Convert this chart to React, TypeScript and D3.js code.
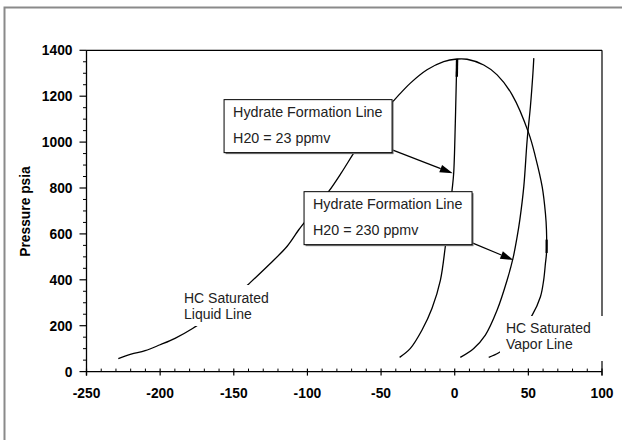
import React from 'react';
import * as d3 from 'd3';

// ---- data (temperature °F, pressure psia) ----
const xTickValues = [-250, -200, -150, -100, -50, 0, 50, 100];
const yTickValues = [0, 200, 400, 600, 800, 1000, 1200, 1400];

// phase envelope: saturated liquid line -> cricondenbar -> saturated vapor line
const envelope: [number, number][] = [
  [-228.4, 57], [-219.7, 76], [-210.2, 91], [-200, 117], [-189.9, 145], [-178, 188],
  [-165, 245], [-152, 310], [-140, 381], [-127.5, 457], [-113.9, 545], [-106, 617],
  [-101.5, 655], [-95, 712], [-85.7, 784], [-77, 866], [-68.7, 951], [-56, 1075],
  [-41.5, 1180], [-35.8, 1220], [-30.1, 1257], [-18.8, 1315], [-7.5, 1351], [1.6, 1362],
  [8.4, 1361], [19.7, 1336], [28.8, 1293], [39, 1206], [50.3, 1038], [54.8, 936],
  [59.4, 805], [61.6, 689], [62.3, 617], [62.3, 515], [61.6, 472], [60.4, 399],
  [58.2, 326], [52.6, 246], [44, 170], [36, 115], [29.9, 82], [23.1, 62],
];

// hydrate formation line, 23 ppmv water
const hydrate23: [number, number][] = [
  [-37.4, 62], [-30.1, 101], [-22.2, 181], [-15.4, 276], [-9.7, 399], [-6.4, 544],
  [-4, 670], [-1.8, 791], [-0.7, 864], [0.4, 1082], [1.1, 1271], [1.6, 1362],
];
const hydrate23Top: [number, number][] = [[1.6, 1362], [1.4, 1285]];

// hydrate formation line, 230 ppmv water
const hydrate230: [number, number][] = [
  [3.8, 62], [12.9, 101], [20.8, 159], [28.8, 268], [35.6, 399], [39.6, 494],
  [42.4, 588], [44.2, 661], [46.9, 806], [49.2, 1010], [51.4, 1155], [53.1, 1300], [53.7, 1366],
];
const vaporThick: [number, number][] = [[62.4, 575], [62.4, 517]];

// annotation boxes: [left T, top P], arrow from / to
const boxLabels = ['Hydrate Formation Line', 'Hydrate Formation Line'];
const boxSubLabels = ['H20 = 23 ppmv', 'H20 = 230 ppmv'];
const boxAnchors: [number, number][] = [[-156.6, 1185], [-102.3, 784]];
const arrowFrom: [number, number][] = [[-42.4, 966], [12.3, 560]];
const arrowTo: [number, number][] = [[-1.3, 864], [39.8, 486]];

const liquidLabel = ['HC Saturated', 'Liquid Line'];
const vaporLabel = ['HC Saturated', 'Vapor Line'];

const FONT = 'Liberation Sans, Arial, Helvetica, sans-serif';

export default function App() {
  const W = 622, H = 440;
  const L = 86.5, R = 602, T = 50.3, B = 371.6;
  const x = d3.scaleLinear().domain([-250, 100]).range([L, R]);
  const y = d3.scaleLinear().domain([0, 1400]).range([B, T]);
  const line = d3.line<[number, number]>().x(d => x(d[0])).y(d => y(d[1])).curve(d3.curveCatmullRom.alpha(0.5));
  const straight = d3.line<[number, number]>().x(d => x(d[0])).y(d => y(d[1]));

  const xMinor = d3.range(-250, 100.1, 10).filter(v => !xTickValues.includes(v));
  const yMinor = d3.range(0, 1400.1, 50).filter(v => !yTickValues.includes(v));

  const arrows = arrowFrom.map((f, i) => {
    const x1 = x(f[0]), y1 = y(f[1]);
    const x2 = x(arrowTo[i][0]), y2 = y(arrowTo[i][1]);
    const a = Math.atan2(y2 - y1, x2 - x1);
    const len = 13, hw = 4;
    const bx = x2 - len * Math.cos(a), by = y2 - len * Math.sin(a);
    const p1 = [bx + hw * Math.sin(a), by - hw * Math.cos(a)];
    const p2 = [bx - hw * Math.sin(a), by + hw * Math.cos(a)];
    return { x1, y1, bx, by, head: `M${x2},${y2}L${p1[0]},${p1[1]}L${p2[0]},${p2[1]}Z` };
  });

  const boxW = 168, boxH = 53;

  return (
    <svg width={W} height={H} style={{ position: 'absolute', left: 0, top: 0, background: '#fff' }}
      fontFamily={FONT}>
      <rect x={0} y={0} width={W} height={H} fill="#fff" />
      {/* outer frame */}
      <rect x={4.5} y={7.5} width={700} height={600} fill="none" stroke="#8a8a8a" strokeWidth={2} />

      {/* plot border top & right */}
      <line x1={L} x2={R} y1={T} y2={T} stroke="#000" strokeWidth={1.2} />
      <line x1={R} x2={R} y1={T} y2={B + 4} stroke="#000" strokeWidth={1.2} />

      {/* curves */}
      <path d={line(envelope) || ''} fill="none" stroke="#000" strokeWidth={1.3} />
      <path d={line(hydrate23) || ''} fill="none" stroke="#000" strokeWidth={1.3} />
      <path d={straight(hydrate23Top) || ''} fill="none" stroke="#000" strokeWidth={2.4} />
      <path d={line(hydrate230) || ''} fill="none" stroke="#000" strokeWidth={1.3} />
      <path d={straight(vaporThick) || ''} fill="none" stroke="#000" strokeWidth={2.2} />

      {/* free labels with white background */}
      <rect x={180} y={285} width={92} height={41} fill="#fff" />
      {liquidLabel.map((t, i) => (
        <text key={'l' + i} x={184} y={302.7 + i * 16} fontSize={14} fill="#222">{t}</text>
      ))}
      <rect x={500} y={316} width={108} height={45} fill="#fff" />
      {vaporLabel.map((t, i) => (
        <text key={'v' + i} x={506} y={333.3 + i * 16} fontSize={14} fill="#222">{t}</text>
      ))}

      {/* arrows */}
      {arrows.map((a, i) => (
        <g key={'a' + i}>
          <line x1={a.x1} y1={a.y1} x2={a.bx} y2={a.by} stroke="#000" strokeWidth={1.2} />
          <path d={a.head} fill="#000" />
        </g>
      ))}

      {/* annotation boxes */}
      {boxAnchors.map((b, i) => {
        const bx = x(b[0]), by = y(b[1]);
        return (
          <g key={'b' + i}>
            <rect x={bx + 1.5} y={by + 1.5} width={boxW} height={boxH} fill="#777" />
            <rect x={bx} y={by} width={boxW} height={boxH} fill="#fff" stroke="#000" strokeWidth={1} />
            <text x={bx + 9} y={by + 17.5} fontSize={14.3} fill="#222">{boxLabels[i]}</text>
            <text x={bx + 9} y={by + 43} fontSize={14.3} fill="#222">{boxSubLabels[i]}</text>
          </g>
        );
      })}

      {/* x axis */}
      <line x1={L} x2={R} y1={B} y2={B} stroke="#000" strokeWidth={1.3} />
      {xTickValues.map(v => (
        <g key={'xt' + v}>
          <line x1={x(v)} x2={x(v)} y1={B - 3} y2={B + 4} stroke="#000" strokeWidth={1.2} />
          <text x={x(v)} y={397.5} textAnchor="middle" fontSize={13.8} fontWeight="bold" fill="#000">{v}</text>
        </g>
      ))}
      {xMinor.map(v => (
        <line key={'xm' + v} x1={x(v)} x2={x(v)} y1={B - 3} y2={B} stroke="#000" strokeWidth={1} />
      ))}

      {/* y axis */}
      <line x1={L} x2={L} y1={T} y2={B + 4} stroke="#000" strokeWidth={1.3} />
      {yTickValues.map(v => (
        <g key={'yt' + v}>
          <line x1={L - 7} x2={L} y1={y(v)} y2={y(v)} stroke="#000" strokeWidth={1.2} />
          <text x={72.5} y={y(v)} dy="0.36em" textAnchor="end" fontSize={13.8} fontWeight="bold" fill="#000">{v}</text>
        </g>
      ))}
      {yMinor.map(v => (
        <line key={'ym' + v} x1={L - 3.5} x2={L} y1={y(v)} y2={y(v)} stroke="#000" strokeWidth={1} />
      ))}

      <text transform={`translate(29.5,211.5) rotate(-90)`} textAnchor="middle" fontSize={13.8}
        fontWeight="bold" fill="#000">Pressure psia</text>
    </svg>
  );
}
